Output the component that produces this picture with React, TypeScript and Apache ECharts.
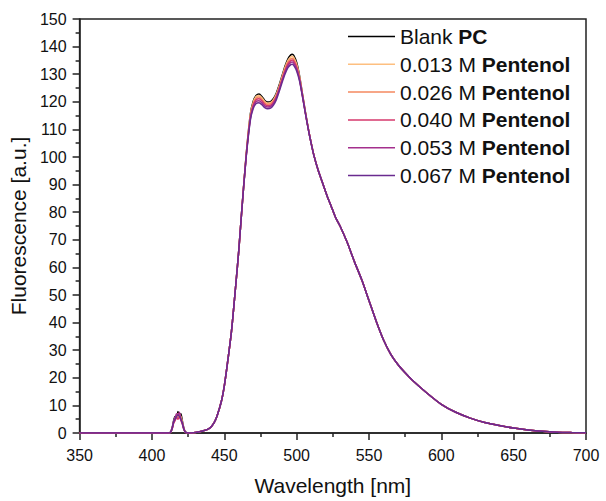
import React, { useEffect, useRef } from "react";
import * as echarts from "echarts";

const wavelengths = [
  350, 400,
  412, 413, 414, 415, 416, 417, 418, 419, 420, 421, 422, 423,
  425, 430, 435, 440,
  443, 445, 448, 450, 452, 455, 458, 460, 462,
  465, 468, 470, 472, 474, 476, 478, 480, 482, 484, 486, 488, 490, 492, 494, 496, 497, 498, 500, 502,
  504, 506, 508, 510, 512,
  515, 518, 521, 524, 527, 530,
  535, 540, 545, 550, 555, 560, 565, 570, 575, 580,
  590, 600, 610, 620, 630, 640, 650, 660, 670, 680, 690, 700,
];

const blankPC = [
  0, 0,
  0, 0.5, 2, 4.5, 6, 5.5, 7.8, 6, 7, 4.5, 2, 0.5,
  0, 0.2, 0.7, 1.8,
  3.8, 6.2, 11.5, 17, 24.5, 37, 54, 66, 80,
  100, 115.5, 120.2, 122.3, 122.8, 121.9, 120.5, 119.9, 120.1, 121.2, 123.2, 126.2, 129.6, 133, 135.6, 137, 137.2, 136.8, 134.3, 129.5,
  123, 116.5, 110.5, 105.2, 100.5,
  95, 90.5, 86, 82, 78, 75,
  69, 62, 55.5, 48, 40.5, 33.8, 28.6, 24.8, 21.8, 19.1,
  14.5, 10.4, 7.5, 5.4, 3.8, 2.7, 1.8, 1.1, 0.6, 0.3, 0.15, 0.05,
];

const pent013 = [
  0, 0,
  0, 0.4, 1.8, 4, 5.5, 6, 7, 6.5, 6, 4, 1.8, 0.4,
  0, 0.2, 0.7, 1.8,
  3.8, 6.2, 11.5, 17, 24.5, 37, 54, 66, 80,
  100, 115.2, 119.8, 121.9, 122.3, 121.5, 120.1, 119.5, 119.7, 120.8, 122.8, 125.8, 129.2, 132.5, 135, 136.3, 136.5, 136.1, 133.7, 129.2,
  122.8, 116.4, 110.5, 105.2, 100.5,
  95, 90.5, 86, 82, 78, 75,
  69, 62, 55.5, 48, 40.5, 33.8, 28.6, 24.8, 21.8, 19.1,
  14.5, 10.4, 7.5, 5.4, 3.8, 2.7, 1.8, 1.1, 0.6, 0.3, 0.15, 0.05,
];

const pent026 = [
  0, 0,
  0, 0.4, 1.6, 3.8, 5, 6.5, 6, 7, 5.5, 3.8, 1.6, 0.4,
  0, 0.2, 0.7, 1.8,
  3.8, 6.2, 11.5, 17, 24.5, 37, 54, 66, 80,
  99.8, 114.8, 119.3, 121.3, 121.7, 120.9, 119.6, 119.1, 119.3, 120.4, 122.4, 125.4, 128.7, 132, 134.4, 135.6, 135.8, 135.4, 133.1, 128.8,
  122.6, 116.3, 110.4, 105.2, 100.5,
  95, 90.5, 86, 82, 78, 75,
  69, 62, 55.5, 48, 40.5, 33.8, 28.6, 24.8, 21.8, 19.1,
  14.5, 10.4, 7.5, 5.4, 3.8, 2.7, 1.8, 1.1, 0.6, 0.3, 0.15, 0.05,
];

const pent040 = [
  0, 0,
  0, 0.3, 1.5, 3.5, 4.5, 5.5, 5, 6, 4.5, 3.2, 1.4, 0.3,
  0, 0.2, 0.7, 1.8,
  3.8, 6.2, 11.5, 17, 24.5, 37, 54, 66, 80,
  99.6, 114.3, 118.8, 120.7, 121.1, 120.4, 119.1, 118.6, 118.8, 119.9, 121.9, 124.9, 128.2, 131.3, 133.7, 134.9, 135.1, 134.7, 132.5, 128.4,
  122.4, 116.2, 110.4, 105.1, 100.5,
  95, 90.5, 86, 82, 78, 75,
  69, 62, 55.5, 48, 40.5, 33.8, 28.6, 24.8, 21.8, 19.1,
  14.5, 10.4, 7.5, 5.4, 3.8, 2.7, 1.8, 1.1, 0.6, 0.3, 0.15, 0.05,
];

const pent053 = [
  0, 0,
  0, 0.4, 1.8, 4.2, 5.5, 7, 6.5, 7.5, 5, 3.6, 1.6, 0.4,
  0, 0.2, 0.7, 1.8,
  3.8, 6.2, 11.5, 17, 24.5, 37, 54, 66, 80,
  99.4, 113.8, 118.2, 120.1, 120.4, 119.7, 118.5, 118.1, 118.3, 119.4, 121.4, 124.4, 127.7, 130.7, 133.1, 134.3, 134.4, 134, 131.9, 128,
  122.2, 116.1, 110.3, 105.1, 100.4,
  95, 90.5, 86, 82, 78, 75,
  69, 62, 55.5, 48, 40.5, 33.8, 28.6, 24.8, 21.8, 19.1,
  14.5, 10.4, 7.5, 5.4, 3.8, 2.7, 1.8, 1.1, 0.6, 0.3, 0.15, 0.05,
];

const pent067 = [
  0, 0,
  0, 0.4, 1.7, 4, 5, 6, 6.5, 6, 5, 3.5, 1.5, 0.4,
  0, 0.2, 0.7, 1.8,
  3.8, 6.2, 11.5, 17, 24.5, 37, 54, 66, 80,
  99.2, 113.3, 117.6, 119.4, 119.7, 119, 117.9, 117.5, 117.7, 118.8, 120.8, 123.8, 127.1, 130.1, 132.4, 133.5, 133.6, 133.2, 131.2, 127.6,
  122, 116, 110.2, 105, 100.4,
  95, 90.5, 86, 82, 78, 75,
  69, 62, 55.5, 48, 40.5, 33.8, 28.6, 24.8, 21.8, 19.1,
  14.5, 10.4, 7.5, 5.4, 3.8, 2.7, 1.8, 1.1, 0.6, 0.3, 0.15, 0.05,
];

const seriesNames = [
  "Blank PC",
  "0.013 M Pentenol",
  "0.026 M Pentenol",
  "0.040 M Pentenol",
  "0.053 M Pentenol",
  "0.067 M Pentenol",
];
const seriesValues = [blankPC, pent013, pent026, pent040, pent053, pent067];
const seriesColors = ["#000000", "#fdbf80", "#f4895f", "#d6386c", "#a42f8d", "#6a2b8f"];

const FONT = "'Liberation Sans', Arial, Helvetica, sans-serif";
const AXIS_COLOR = "#222";

export default function App() {
  const ref = useRef<HTMLDivElement>(null);
  useEffect(() => {
    if (!ref.current) return;
    const chart = echarts.init(ref.current, undefined, { renderer: "svg" });
    const axisCommon = {
      type: "value",
      axisLine: { show: true, lineStyle: { color: AXIS_COLOR, width: 1.5 } },
      axisTick: { show: true, length: 7, lineStyle: { color: AXIS_COLOR, width: 1.5 } },
      minorTick: { show: true, splitNumber: 2, length: 4, lineStyle: { color: AXIS_COLOR, width: 1.5 } },
      splitLine: { show: false },
      minorSplitLine: { show: false },
      nameLocation: "middle",
      nameTextStyle: { fontSize: 21, color: "#111", fontFamily: FONT },
    };
    chart.setOption({
      animation: false,
      grid: {
        left: 77,
        right: 20,
        top: 19,
        bottom: 66,
        show: true,
        borderColor: AXIS_COLOR,
        borderWidth: 1.5,
      },
      legend: {
        orient: "vertical",
        left: 343,
        top: 21,
        icon: "rect",
        itemWidth: 47,
        itemHeight: 1.5,
        itemGap: 6.8,
        data: seriesNames,
        formatter: (name: string) => {
          const i = name.lastIndexOf(" ");
          return `{r|${name.slice(0, i + 1)}}{b|${name.slice(i + 1)}}`;
        },
        textStyle: {
          fontFamily: FONT,
          fontSize: 21,
          color: "#111",
          rich: {
            r: { fontFamily: FONT, fontSize: 21, color: "#111", lineHeight: 21 },
            b: { fontFamily: FONT, fontSize: 21, color: "#111", fontWeight: "bold", lineHeight: 21 },
          },
        },
      },
      xAxis: {
        ...axisCommon,
        min: 350,
        max: 700,
        interval: 50,
        name: "Wavelength [nm]",
        nameGap: 42,
        axisLabel: { fontSize: 16, color: "#111", fontFamily: FONT, margin: 14 },
      },
      yAxis: {
        ...axisCommon,
        min: 0,
        max: 150,
        interval: 10,
        name: "Fluorescence [a.u.]",
        nameGap: 46,
        axisLabel: { fontSize: 16, color: "#111", fontFamily: FONT, margin: 13 },
      },
      series: seriesNames.map((name, s) => ({
        name,
        type: "line",
        symbol: "none",
        smooth: 0.25,
        color: seriesColors[s],
        lineStyle: { color: seriesColors[s], width: 1.5 },
        data: wavelengths.map((w, i) => [w, seriesValues[s][i]]),
      })),
    });
    return () => chart.dispose();
  }, []);
  return (
    <div
      ref={ref}
      style={{ position: "fixed", left: 0, top: 0, width: 606, height: 501, background: "#fff" }}
    />
  );
}
